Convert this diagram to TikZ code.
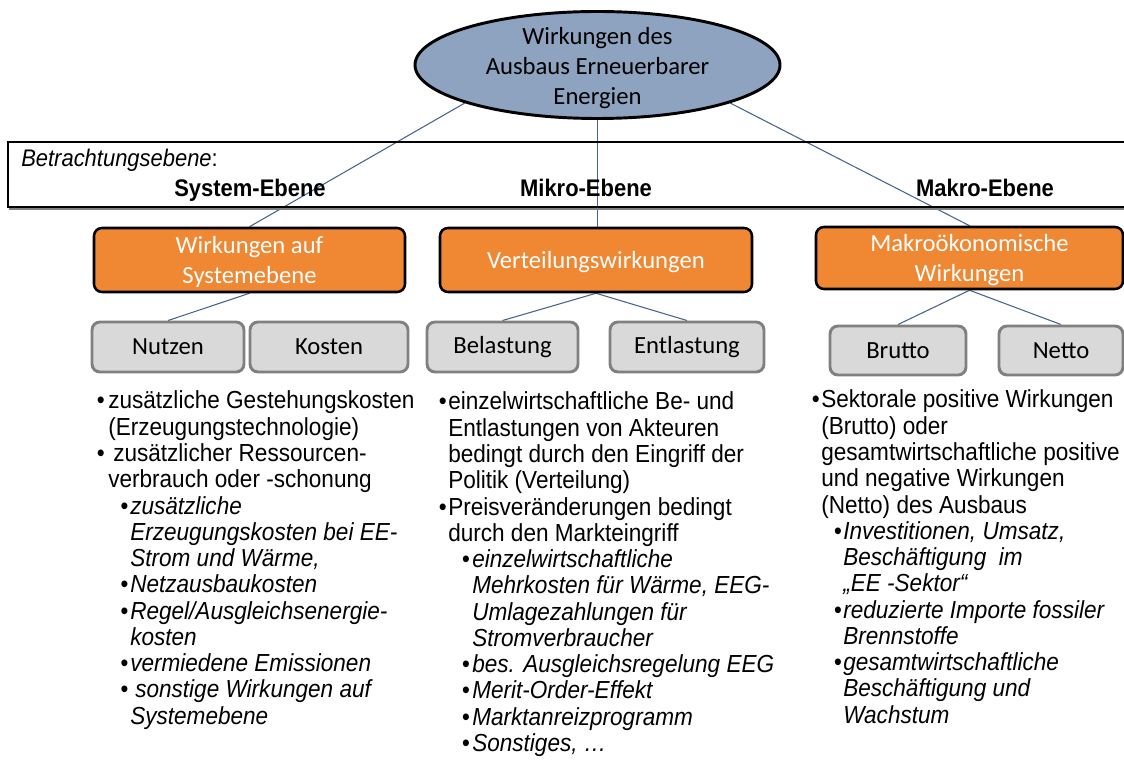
\documentclass[tikz,border=0pt]{standalone}
\usepackage{fontspec}
\setmainfont{Liberation Sans}[FakeStretch=0.915]
\newfontfamily\boxfont{Carlito}
\usetikzlibrary{shapes.geometric,backgrounds}
\definecolor{orng}{RGB}{240,135,50}
\definecolor{ellfill}{RGB}{142,163,192}
\definecolor{gfill}{RGB}{217,217,217}
\definecolor{gbord}{RGB}{128,128,128}
\definecolor{lineblue}{RGB}{70,100,140}
\newdimen\px \px=0.75pt
\newcommand\Ln[2]{\hbox{\kern#1\px #2}}
\newcommand\Bu[1]{\llap{\textbullet\kern#1\px}}
\newcommand\colfont{\fontsize{18.5pt}{19.69pt}\selectfont}
\begin{document}
\begin{tikzpicture}[x=0.75pt,y=-0.75pt,
  obox/.style={draw=black,line width=1.9pt,fill=orng,rounded corners=6pt,text=white,
    font=\boxfont\fontsize{18.5pt}{22.5pt}\selectfont,align=center,inner sep=0pt,text depth=0pt},
  gbox/.style={draw=gbord,line width=2.2pt,fill=gfill,rounded corners=6pt,
    font=\boxfont\fontsize{18.5pt}{22.5pt}\selectfont,inner sep=0pt},
  conn/.style={draw=lineblue,line width=0.8pt},
  col/.style={inner sep=0pt,anchor=base west},
  band/.style={inner sep=0pt,font=\fontsize{18pt}{21pt}\selectfont},
  bandb/.style={inner sep=0pt,anchor=base,font=\bfseries\fontsize{18pt}{21pt}\selectfont}]

\useasboundingbox (0,0) rectangle (1124,762);
\clip (0,0) rectangle (1124,762);

% top ellipse
\node[ellipse,draw=black,line width=2.2pt,fill=ellfill,minimum width=273.75pt,
  minimum height=80.25pt,inner sep=0pt] (ell) at (597.5,65) {};
\node[inner sep=0pt,align=center,font=\boxfont\fontsize{18.5pt}{22.5pt}\selectfont]
  (ellt) at (597.5,68) {Wirkungen des\\Ausbaus Erneuerbarer\\Energien};

% band
\draw[gbord,line width=1.5pt] (9,209) -- (1140,209);
\draw[black,line width=0.9pt] (8,142) rectangle (1140,207);
\node[band,anchor=base west] (bt) at (21,167) {\itshape Betrachtungsebene\upshape:};
\node[bandb] (se) at (250,197) {System-Ebene};
\node[bandb] (me) at (586,197) {Mikro-Ebene};
\node[bandb] (ma) at (985,197) {Makro-Ebene};

% orange boxes
\node[obox,minimum width=233.25pt,minimum height=48pt] (o1) at (249.5,260) {Wirkungen auf\\Systemebene};
\node[obox,minimum width=234pt,minimum height=48pt] (o2) at (596,260) {Verteilungswirkungen};
\node[obox,minimum width=230.25pt,minimum height=46.5pt] (o3) at (969.5,258) {Makroökonomische\\Wirkungen};

% gray boxes
\node[gbox,minimum width=114pt,minimum height=37.5pt] (nu) at (168,347) {Nutzen};
\node[gbox,minimum width=118.5pt,minimum height=37.5pt] (ko) at (329,347) {Kosten};
\node[gbox,minimum width=113.25pt,minimum height=37.5pt] (be) at (502.5,347) {Belastung};
\node[gbox,minimum width=115.5pt,minimum height=37.5pt] (en) at (687,347) {Entlastung};
\node[gbox,minimum width=102pt,minimum height=36.75pt] (br) at (898,350.5) {Brutto};
\node[gbox,minimum width=93pt,minimum height=36.75pt] (ne) at (1061,350.5) {Netto};

% connectors
\begin{scope}[on background layer]
\draw[conn] (ell.196) -- (o1.north);
\draw[conn] (ell.south) -- (ell.south |- o2.north);
\draw[conn] (ell.344) -- (o3.north);
\draw[conn] (o1.south) -- (nu.north);
\draw[conn] (o2.south) -- (be.north);
\draw[conn] (o2.south) -- (en.north);
\draw[conn] (o3.south) -- (br.north);
\draw[conn] (o3.south) -- (ne.north);
\end{scope}

% text columns
\node[col] (c1) at (98,409) {\vtop{\colfont
  \Ln{10}{\Bu{3.5}zusätzliche Gestehungskosten}
  \Ln{10}{(Erzeugungstechnologie)}
  \Ln{15}{\Bu{8.5}zusätzlicher Ressourcen-}
  \Ln{10}{verbrauch oder -schonung}
  \itshape
  \Ln{32}{\Bu{2}zusätzliche}
  \Ln{32}{Erzeugungskosten bei EE-}
  \Ln{32}{Strom und Wärme,}
  \Ln{32}{\Bu{2}Netzausbaukosten}
  \Ln{32}{\Bu{2}Regel/Ausgleichsenergie-}
  \Ln{32}{kosten}
  \Ln{32}{\Bu{2}vermiedene Emissionen}
  \Ln{37}{\Bu{7}sonstige Wirkungen auf}
  \Ln{32}{Systemebene}}};

\node[col] (c2) at (440,410) {\vtop{\colfont
  \Ln{8}{\Bu{1.5}einzelwirtschaftliche Be- und}
  \Ln{8}{Entlastungen von Akteuren}
  \Ln{8}{bedingt durch den Eingriff der}
  \Ln{8}{Politik (Verteilung)}
  \Ln{8}{\Bu{1.5}Preisveränderungen bedingt}
  \Ln{8}{durch den Markteingriff}
  \itshape
  \Ln{32}{\Bu{2.5}einzelwirtschaftliche}
  \Ln{32}{Mehrkosten für Wärme, EEG-}
  \Ln{32}{Umlagezahlungen für}
  \Ln{32}{Stromverbraucher}
  \Ln{32}{\Bu{2.5}bes. Ausgleichsregelung EEG}
  \Ln{32}{\Bu{2.5}Merit-Order-Effekt}
  \Ln{32}{\Bu{2.5}Marktanreizprogramm}
  \Ln{32}{\Bu{2.5}Sonstiges, …}}};

\node[col] (c3) at (813,408) {\vtop{\colfont
  \Ln{8}{\Bu{1.5}Sektorale positive Wirkungen}
  \Ln{8}{(Brutto) oder}
  \Ln{8}{gesamtwirtschaftliche positive}
  \Ln{8}{und negative Wirkungen}
  \Ln{8}{(Netto) des Ausbaus}
  \itshape
  \Ln{30}{\Bu{1.5}Investitionen, Umsatz,}
  \Ln{30}{Beschäftigung\ \ im}
  \Ln{30}{„EE -Sektor“}
  \Ln{30}{\Bu{1.5}reduzierte Importe fossiler}
  \Ln{30}{Brennstoffe}
  \Ln{30}{\Bu{1.5}gesamtwirtschaftliche}
  \Ln{30}{Beschäftigung und}
  \Ln{30}{Wachstum}}};
\end{tikzpicture}
\end{document}
